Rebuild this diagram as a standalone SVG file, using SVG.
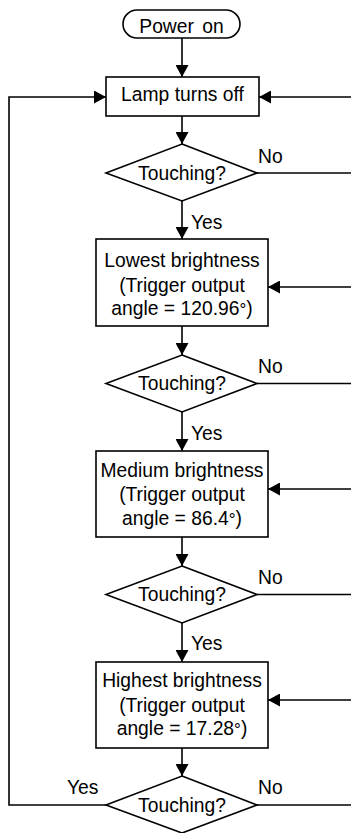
<svg xmlns="http://www.w3.org/2000/svg" width="351" height="833" viewBox="0 0 351 833">
<style>
.s{fill:#fff;stroke:#000;stroke-width:1.6}
.c{fill:none;stroke:#000;stroke-width:1.6}
text{font-family:"Liberation Sans",Arial,sans-serif;font-size:19.3px;fill:#000}
.m{text-anchor:middle}
.d{font-size:17px}
</style>
<defs>
<marker id="ah" markerUnits="userSpaceOnUse" markerWidth="13" markerHeight="13" viewBox="0 0 13 13" refX="12" refY="6.5" orient="auto">
<path d="M0,0 L12,6.5 L0,13 Z" fill="#000"/>
</marker>
</defs>
<g id="connectors">
<line class="c" x1="182" y1="38" x2="182" y2="77" marker-end="url(#ah)"/>
<line class="c" x1="182" y1="116" x2="182" y2="144" marker-end="url(#ah)"/>
<line class="c" x1="182" y1="201" x2="182" y2="239" marker-end="url(#ah)"/>
<line class="c" x1="182" y1="326" x2="182" y2="355" marker-end="url(#ah)"/>
<line class="c" x1="182" y1="412" x2="182" y2="451" marker-end="url(#ah)"/>
<line class="c" x1="182" y1="537" x2="182" y2="566" marker-end="url(#ah)"/>
<line class="c" x1="182" y1="623" x2="182" y2="662" marker-end="url(#ah)"/>
<line class="c" x1="182" y1="748" x2="182" y2="776" marker-end="url(#ah)"/>
<line class="c" x1="351" y1="97" x2="259" y2="97" marker-end="url(#ah)"/>
<line class="c" x1="351" y1="287" x2="268" y2="287" marker-end="url(#ah)"/>
<line class="c" x1="351" y1="489" x2="268" y2="489" marker-end="url(#ah)"/>
<line class="c" x1="351" y1="700" x2="268" y2="700" marker-end="url(#ah)"/>
<line class="c" x1="257" y1="173" x2="351" y2="173"/>
<line class="c" x1="257" y1="383.5" x2="351" y2="383.5"/>
<line class="c" x1="257" y1="594.5" x2="351" y2="594.5"/>
<line class="c" x1="257" y1="805" x2="351" y2="805"/>
<polyline class="c" points="106,805 9,805 9,97 106,97" marker-end="url(#ah)"/>
<text x="258" y="162.5">No</text>
<text x="258" y="373">No</text>
<text x="258" y="583.5">No</text>
<text x="258" y="793.5">No</text>
<text x="191" y="229">Yes</text>
<text x="191" y="440">Yes</text>
<text x="191" y="650">Yes</text>
<text x="67" y="793.5">Yes</text>
</g>
<g id="power-on">
<rect class="s" x="123" y="10" width="117" height="28" rx="14"/>
<text class="m" x="181.5" y="33" word-spacing="3">Power on</text>
</g>
<g id="lamp-off">
<rect class="s" x="106" y="77" width="153" height="39"/>
<text class="m" x="182.5" y="101">Lamp turns off</text>
</g>
<g id="touch1">
<polygon class="s" points="182,144 257,173 182,201 106,173"/>
<text class="m" x="182" y="179.5">Touching?</text>
</g>
<g id="lowest">
<rect class="s" x="96" y="239" width="172" height="87"/>
<text class="m" x="182" y="267">Lowest brightness</text>
<text class="m" x="182" y="291.5">(Trigger output</text>
<text class="m" x="182" y="315">angle = 120.96<tspan class="d">°</tspan>)</text>
</g>
<g id="touch2">
<polygon class="s" points="182,355 257,383.5 182,412 106,383.5"/>
<text class="m" x="182" y="390">Touching?</text>
</g>
<g id="medium">
<rect class="s" x="96" y="451" width="172" height="86"/>
<text class="m" x="182" y="477">Medium brightness</text>
<text class="m" x="182" y="501">(Trigger output</text>
<text class="m" x="182" y="525">angle = 86.4<tspan class="d">°</tspan>)</text>
</g>
<g id="touch3">
<polygon class="s" points="182,566 257,594.5 182,623 106,594.5"/>
<text class="m" x="182" y="601">Touching?</text>
</g>
<g id="highest">
<rect class="s" x="96" y="662" width="172" height="86"/>
<text class="m" x="182" y="687">Highest brightness</text>
<text class="m" x="182" y="711.5">(Trigger output</text>
<text class="m" x="182" y="735">angle = 17.28<tspan class="d">°</tspan>)</text>
</g>
<g id="touch4">
<polygon class="s" points="182,776 257,805 182,833 106,805"/>
<text class="m" x="182" y="811.5">Touching?</text>
</g>
</svg>
